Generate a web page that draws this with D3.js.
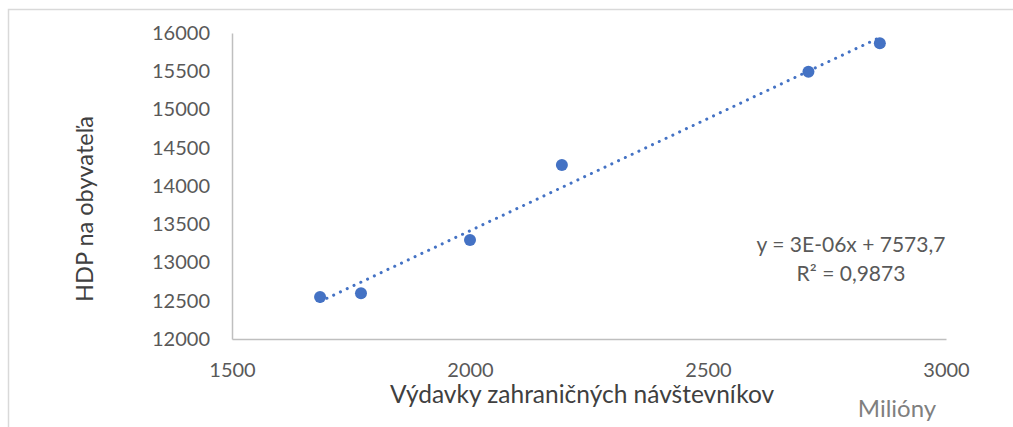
<!DOCTYPE html>
<html>
<head>
<meta charset="utf-8">
<script src="https://cdn.jsdelivr.net/npm/d3@7"></script>
<style>
  body { margin: 0; background: #fff; }
  svg text { font-family: Lato, "Open Sans", sans-serif; fill: #595959; }
</style>
</head>
<body>
<div id="chart"></div>
<script>
// DATA

var spending = [1685, 1771, 2000, 2193, 2711, 2861];
var gdp = [12549, 12597, 13294, 14275, 15494, 15865];
var xTicks = [1500, 2000, 2500, 3000];
var yTicks = [12000, 12500, 13000, 13500, 14000, 14500, 15000, 15500, 16000];
var equationText = ["y = 3E-06x + 7573,7", "R² = 0,9873"];

// D3 CODE

var width = 1013;
var height = 427;

var x = d3.scaleLinear()
    .domain([1500, 3000])
    .range([232, 946]);

var y = d3.scaleLinear()
    .domain([12000, 16000])
    .range([339, 33]);

var svg = d3.select("#chart")
    .append("svg")
    .attr("width", width)
    .attr("height", height);

// chart frame (only top and left edges show)
svg.append("path")
    .attr("d", "M8.5," + height + "V9.5H" + width)
    .attr("fill", "none")
    .attr("stroke", "#d9d9d9")
    .attr("stroke-width", 1.5);

// axes
var xAxis = svg.append("g")
    .attr("transform", "translate(0,339)")
    .call(d3.axisBottom(x).tickValues(xTicks).tickFormat(d3.format("d")).tickSize(0).tickPadding(24));

var yAxis = svg.append("g")
    .attr("transform", "translate(232,0)")
    .call(d3.axisLeft(y).tickValues(yTicks).tickFormat(d3.format("d")).tickSize(0).tickPadding(22));

[xAxis, yAxis].forEach(function (g) {
    g.select(".domain").attr("stroke", "#bfbfbf").attr("stroke-width", 1.5);
    g.selectAll("text")
        .style("font-size", "20px")
        .attr("fill", "#595959")
        .style("font-family", "Lato, sans-serif");
});

// axis titles
svg.append("text")
    .attr("x", 582)
    .attr("y", 403)
    .attr("text-anchor", "middle")
    .style("font-size", "24.5px")
    .style("fill", "#404040")
    .text("Výdavky zahraničných návštevníkov");

svg.append("text")
    .attr("transform", "translate(93,209) rotate(-90)")
    .attr("text-anchor", "middle")
    .style("font-size", "23.5px")
    .style("fill", "#404040")
    .text("HDP na obyvateľa");

svg.append("text")
    .attr("x", 897)
    .attr("y", 417)
    .attr("text-anchor", "middle")
    .style("font-size", "24px")
    .style("fill", "#7f7f7f")
    .text("Milióny");

// linear trendline (least squares over the points)
var n = spending.length;
var mx = d3.mean(spending);
var my = d3.mean(gdp);
var sxy = 0, sxx = 0;
for (var i = 0; i < n; i++) {
    sxy += (spending[i] - mx) * (gdp[i] - my);
    sxx += (spending[i] - mx) * (spending[i] - mx);
}
var slope = sxy / sxx;
var intercept = my - slope * mx;
var ends = d3.extent(spending);

svg.append("line")
    .attr("x1", x(ends[0]))
    .attr("y1", y(intercept + slope * ends[0]))
    .attr("x2", x(ends[1]))
    .attr("y2", y(intercept + slope * ends[1]))
    .attr("stroke", "#4472c4")
    .attr("stroke-width", 3)
    .attr("stroke-linecap", "round")
    .attr("stroke-dasharray", "0.1 7.4");

// points
svg.selectAll("circle.dot")
    .data(spending)
    .enter()
    .append("circle")
    .attr("class", "dot")
    .attr("cx", function (d) { return x(d); })
    .attr("cy", function (d, i) { return y(gdp[i]); })
    .attr("r", 6)
    .style("fill", "#4472c4");

// equation label
svg.append("text")
    .attr("x", 851)
    .attr("text-anchor", "middle")
    .style("font-size", "21px")
    .selectAll("tspan")
    .data(equationText)
    .enter()
    .append("tspan")
    .attr("x", 851)
    .attr("y", function (d, i) { return 252 + i * 29; })
    .text(function (d) { return d; });
</script>
</body>
</html>
